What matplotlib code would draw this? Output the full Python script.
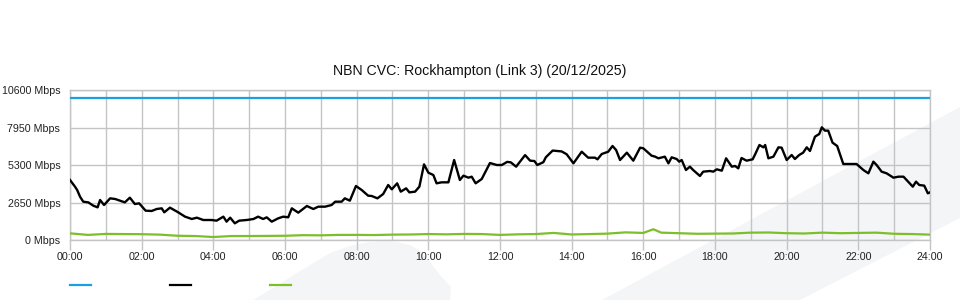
import matplotlib
matplotlib.use('Agg')
import matplotlib.pyplot as plt
from matplotlib.lines import Line2D
from matplotlib.patches import Polygon

plt.rcParams['font.family'] = ['Liberation Sans', 'DejaVu Sans']

title = "NBN CVC: Rockhampton (Link 3) (20/12/2025)"
y_ticks = [0, 2650, 5300, 7950, 10600]
y_tick_labels = [f"{v} Mbps" for v in y_ticks]
x_ticks = list(range(0, 25, 2))
x_tick_labels = [f"{h:02d}:00" for h in x_ticks]

capacity_hours = [0, 24]
capacity_mbps = [10000, 10000]

traffic_hours = [
    0.00, 0.14, 0.20, 0.28, 0.37, 0.51, 0.65, 0.77, 0.84, 0.95, 1.12, 1.26, 1.53, 1.67, 1.81, 1.93,
    2.11, 2.28, 2.42, 2.56, 2.63, 2.79, 3.02, 3.21, 3.40, 3.54, 3.72, 3.95, 4.09, 4.28, 4.37, 4.47,
    4.60, 4.72, 4.93, 5.12, 5.25, 5.39, 5.49, 5.63, 5.81, 5.95, 6.09, 6.19, 6.37, 6.61, 6.79, 6.93,
    7.12, 7.30, 7.40, 7.58, 7.67, 7.81, 7.98, 8.14, 8.32, 8.42, 8.58, 8.74, 8.88, 8.98, 9.13, 9.23,
    9.38, 9.47, 9.63, 9.75, 9.88, 10.00, 10.14, 10.23, 10.37, 10.56, 10.72, 10.88, 10.98, 11.12,
    11.21, 11.32, 11.49, 11.72, 11.91, 12.05, 12.20, 12.30, 12.45, 12.70, 12.84, 12.96, 13.04,
    13.21, 13.28, 13.47, 13.72, 13.86, 14.05, 14.28, 14.46, 14.65, 14.72, 14.84, 15.02, 15.14,
    15.24, 15.35, 15.54, 15.72, 15.91, 16.00, 16.23, 16.33, 16.42, 16.60, 16.70, 16.79, 16.93,
    17.00, 17.07, 17.19, 17.30, 17.39, 17.58, 17.67, 17.86, 17.95, 18.05, 18.19, 18.31, 18.47,
    18.56, 18.65, 18.74, 18.88, 19.05, 19.12, 19.24, 19.35, 19.40, 19.49, 19.63, 19.77, 19.86,
    20.00, 20.14, 20.23, 20.35, 20.46, 20.56, 20.65, 20.79, 20.91, 20.98, 21.07, 21.16, 21.28,
    21.41, 21.58, 21.72, 21.95, 22.14, 22.28, 22.42, 22.51, 22.65, 22.79, 22.98, 23.12, 23.26,
    23.39, 23.52, 23.61, 23.70, 23.84, 23.94, 24.00]
traffic_mbps = [
    4240, 3767, 3533, 3060, 2707, 2660, 2425, 2307, 2827, 2473, 2944, 2897, 2660, 2991, 2544, 2590,
    2073, 2050, 2191, 2238, 1955, 2285, 1955, 1650, 1484, 1578, 1413, 1413, 1366, 1650, 1296, 1578,
    1178, 1366, 1413, 1484, 1650, 1484, 1602, 1296, 1531, 1650, 1602, 2238, 1932, 2403, 2191, 2355,
    2355, 2473, 2707, 2707, 2944, 2779, 3816, 3533, 3132, 3109, 2944, 3250, 3887, 3580, 4005, 3415,
    3651, 3368, 3415, 3769, 5344, 4757, 4593, 4005, 4075, 4075, 5653, 4240, 4546, 4404,
    4475, 4005, 4310, 5440, 5300, 5300, 5520, 5488, 5182, 6000, 5606, 5582, 5300,
    5500, 5850, 6320, 6260, 6060, 5420, 6240, 5818, 5818, 5700, 6077, 6240, 6643,
    6360, 5653, 6172, 5606, 6525, 6478, 5959, 5889, 5772, 5889, 5417, 5843, 5724,
    5535, 5653, 4947, 5182, 4947, 4523, 4829, 4876, 4829, 4994, 4899, 5772, 5182,
    5229, 5064, 5795, 5606, 5700, 6053, 6713, 6548, 6713, 5772, 5889, 6548, 6525,
    5653, 6007, 5724, 6007, 6172, 6548, 6290, 7303, 7491, 7962, 7727, 7727, 6878,
    6643, 5371, 5371, 5371, 4947, 4711, 5535, 5300, 4829, 4711, 4404, 4475, 4475,
    4122, 3769, 4122, 3887, 3840, 3298, 3368]

green_hours = [
    0.0, 0.5, 1.0, 1.5, 2.0, 2.5, 3.0, 3.5, 4.0, 4.5, 5.0, 5.5, 6.0, 6.5, 7.0, 7.5, 8.0, 8.5,
    9.0, 9.5, 10.0, 10.5, 11.0, 11.5, 12.0, 12.5, 13.0, 13.5, 14.0, 14.5, 15.0, 15.5, 16.0,
    16.28, 16.5, 17.0, 17.5, 18.0, 18.5, 19.0, 19.5, 20.0, 20.5, 21.0, 21.5, 22.0, 22.5, 23.0,
    23.5, 24.0]
green_mbps = [
    470, 360, 430, 420, 410, 380, 300, 280, 210, 280, 280, 290, 300, 340, 330, 360, 360, 350,
    380, 390, 420, 400, 430, 420, 360, 400, 420, 500, 390, 420, 450, 540, 500,
    760, 520, 480, 440, 450, 460, 520, 530, 480, 460, 520, 480, 500, 520, 440,
    420, 380]

blue = '#1ba1e2'
black = '#000000'
green = '#7cbf2a'
grid_c = '#c4c4c4'
wm_c = '#f4f5f7'

fig = plt.figure(figsize=(9.6, 3.0), dpi=100)
W, H = 960.0, 300.0

def fp(pts):
    return [(x / W, 1 - y / H) for x, y in pts]

# background watermark shapes
band = [(602, 300), (960, 107), (960, 218), (800, 300)]
blob = [(253, 300), (275, 287), (297, 273), (330, 253), (350, 246), (370, 242), (385, 241),
        (397, 242), (410, 245), (420, 251), (430, 262), (440, 275), (451, 287), (450, 300)]
for shape in (band, blob):
    fig.patches.append(Polygon(fp(shape), closed=True, facecolor=wm_c, edgecolor='none',
                               transform=fig.transFigure, zorder=-10))

ax = fig.add_axes([70 / W, 1 - 240 / H, 860 / W, 150 / H])
ax.set_facecolor('none')

ax.plot(capacity_hours, capacity_mbps, color=blue, lw=1.6, zorder=3, solid_capstyle='butt')
ax.plot(green_hours, green_mbps, color=green, lw=1.6, zorder=3)
ax.plot(traffic_hours, traffic_mbps, color=black, lw=1.7, zorder=4)

ax.set_xlim(0, 24)
ax.set_ylim(0, 10600)
ax.set_xticks(x_ticks)
ax.set_xticklabels(x_tick_labels, fontsize=7.7, color='#222222')
ax.set_xticks(range(1, 24, 2), minor=True)
ax.set_yticks(y_ticks)
ax.set_yticklabels(y_tick_labels, fontsize=7.7, color='#222222')
ax.tick_params(axis='x', which='major', length=7, width=1, color=grid_c, pad=1.5)
ax.tick_params(axis='x', which='minor', length=0)
ax.tick_params(axis='y', length=0, pad=7)
ax.grid(True, which='both', color=grid_c, lw=1.0, zorder=1)
ax.set_axisbelow(True)
for s in ax.spines.values():
    s.set_color(grid_c)
    s.set_linewidth(1.0)

fig.text(480 / W, 1 - 71 / H, title, ha='center', va='center', fontsize=10.2, color='#111111')

# legend markers (no labels)
for x0, c in ((70, blue), (170, black), (270, green)):
    fig.add_artist(Line2D([x0 / W, (x0 + 21) / W], [1 - 285 / H, 1 - 285 / H],
                          color=c, lw=1.6, transform=fig.transFigure))

fig.savefig('out.png', dpi=100)
